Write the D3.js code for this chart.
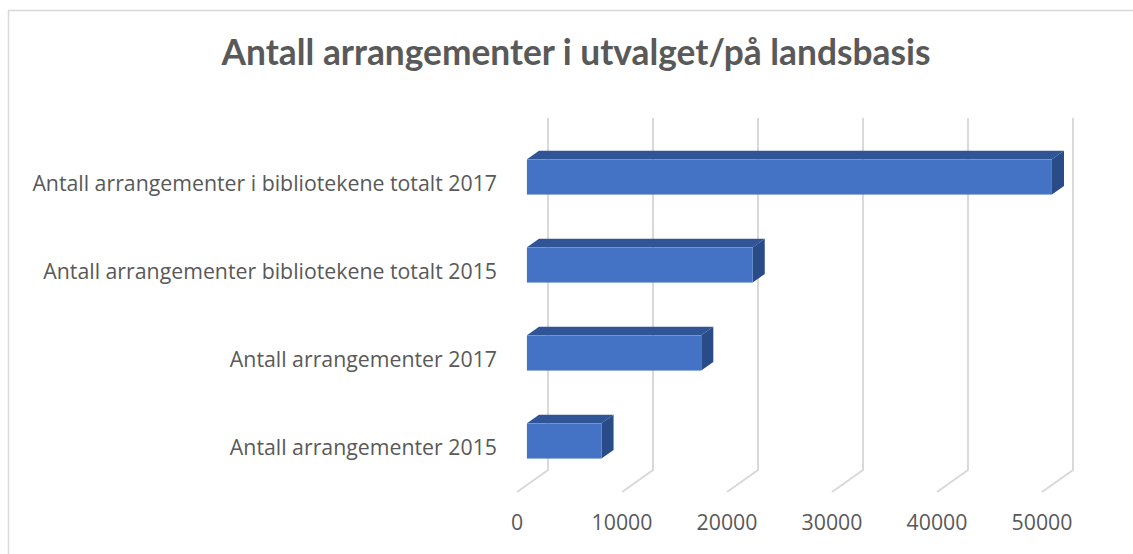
<!DOCTYPE html>
<html lang="no">
<head>
<meta charset="UTF-8">
<title>Antall arrangementer</title>
<script src="https://d3js.org/d3.v7.min.js"></script>
<style>
  body { margin: 0; background: #fff; font-family: Lato, "Open Sans", sans-serif; }
  svg text { fill: #595959; }
  .lbl { font-family: "Open Sans", Lato, sans-serif; }
</style>
</head>
<body>
<div id="chart"></div>
<script>
// data
const categories = [
  "Antall arrangementer i bibliotekene totalt 2017",
  "Antall arrangementer bibliotekene totalt 2015",
  "Antall arrangementer 2017",
  "Antall arrangementer 2015"
];
const values = [50000, 21500, 16600, 7100];
const tickValues = [0, 10000, 20000, 30000, 40000, 50000];
const title = "Antall arrangementer i utvalget/på landsbasis";

const W = 1133, H = 554;
// 3d offsets for the back wall
const depthX = 31, depthY = -22;
const barFront = 0.32, barBack = 0.71;

const svg = d3.select("#chart").append("svg")
  .attr("width", W).attr("height", H);

// outer chart border
svg.append("rect")
  .attr("x", 8.5).attr("y", 10.5)
  .attr("width", W + 20).attr("height", H + 20)
  .attr("fill", "none").attr("stroke", "#d9d9d9").attr("stroke-width", 1.5);

const x = d3.scaleLinear().domain([0, 50000]).range([517, 1042]);
const y = d3.scaleBand().domain(categories).range([140, 492])
  .paddingInner(0.6).paddingOuter(0.3);

// project a point (value, screen y on front plane, depth 0..1)
const px = (v, d) => x(v) + depthX * d;
const py = (yy, d) => yy + depthY * d;

// gridlines: slanted floor segment + vertical on back wall
const grid = svg.append("g");
tickValues.forEach(t => {
  grid.append("path")
    .attr("d", `M${px(t, 0)},${py(492, 0)} L${px(t, 1)},${py(492, 1)} L${px(t, 1)},${py(140, 1)}`)
    .attr("fill", "none").attr("stroke", "#d9d9d9").attr("stroke-width", 2);
});

// category labels, sized so the longest one fills the reference width
const cats = svg.append("g").attr("class", "lbl").style("font-size", "18px");
cats.selectAll("text")
  .data(categories).join("text")
  .attr("x", 497).attr("y", d => y(d) + y.bandwidth() / 2 + 1)
  .attr("text-anchor", "end").attr("dominant-baseline", "middle")
  .text(d => d);
const longest = d3.max(cats.selectAll("text").nodes(), n => n.getComputedTextLength());
const lblSize = 18 * 464 / longest;
cats.style("font-size", lblSize.toFixed(1) + "px");

// tick labels
svg.append("g").attr("class", "lbl").selectAll("text")
  .data(tickValues).join("text")
  .attr("x", d => x(d)).attr("y", 524)
  .attr("text-anchor", "middle").attr("dominant-baseline", "middle")
  .style("font-size", lblSize.toFixed(1) + "px")
  .text(d => d);

// bars, as boxes
const bars = svg.append("g").selectAll("g")
  .data(categories.map((c, i) => ({ c, v: values[i] })))
  .join("g");

bars.append("path") // top face
  .attr("d", d => {
    const t = y(d.c);
    return `M${px(0, barFront)},${py(t, barFront)} L${px(0, barBack)},${py(t, barBack)}
            L${px(d.v, barBack)},${py(t, barBack)} L${px(d.v, barFront)},${py(t, barFront)}Z`;
  })
  .attr("fill", "#2f5597");

bars.append("path") // side face
  .attr("d", d => {
    const t = y(d.c), b = t + y.bandwidth();
    return `M${px(d.v, barFront)},${py(t, barFront)} L${px(d.v, barBack)},${py(t, barBack)}
            L${px(d.v, barBack)},${py(b, barBack)} L${px(d.v, barFront)},${py(b, barFront)}Z`;
  })
  .attr("fill", "#294b88");

bars.append("rect") // front face
  .attr("x", d => px(0, barFront))
  .attr("y", d => py(y(d.c), barFront))
  .attr("width", d => x(d.v) - x(0))
  .attr("height", y.bandwidth())
  .attr("fill", "#4472c4");

// title, sized to the reference width
const tt = svg.append("text")
  .attr("x", 576).attr("y", 65)
  .attr("text-anchor", "middle")
  .style("font-size", "31px").style("font-weight", "bold")
  .text(title);
const tw = tt.node().getComputedTextLength();
tt.style("font-size", (31 * 708 / tw).toFixed(1) + "px");
</script>
</body>
</html>
